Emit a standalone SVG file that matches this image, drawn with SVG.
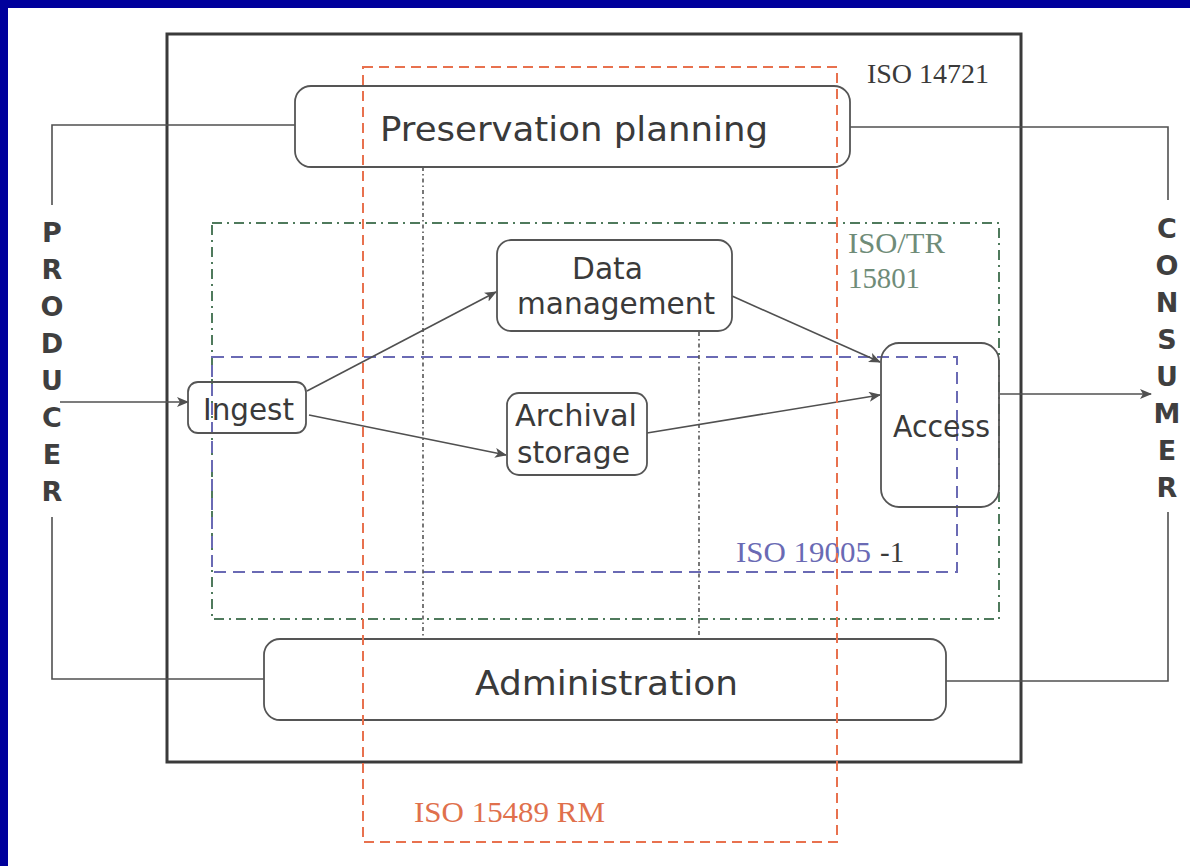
<svg xmlns="http://www.w3.org/2000/svg" width="1190" height="866" viewBox="0 0 1190 866">
<style>
.box{fill:none;stroke:#555;stroke-width:1.8}
.lbl{font-family:"DejaVu Sans",Verdana,sans-serif;fill:#3a3a3a}
.big{font-size:34px}
.mid{font-size:30px}
.vert{font-family:"DejaVu Sans","Liberation Sans",sans-serif;font-weight:bold;font-size:27px;fill:#3f3f3f;text-anchor:middle}
.iso{font-family:"Liberation Serif","Times New Roman",serif}
.conn{fill:none;stroke:#505050;stroke-width:1.6}
.arr{fill:none;stroke:#505050;stroke-width:1.6;marker-end:url(#ah)}
.dot{fill:none;stroke:#555;stroke-width:1.6;stroke-dasharray:4 3 1.5 3}
</style>
<defs>
<marker id="ah" viewBox="0 0 12 10" refX="11" refY="5" markerWidth="12" markerHeight="10" markerUnits="userSpaceOnUse" orient="auto">
<path d="M0,0 L12,5 L0,10 L3,5 z" fill="#505050"/>
</marker>
</defs>
<rect width="1190" height="866" fill="#fff"/>
<rect x="0" y="0" width="1190" height="8" fill="#00009c"/>
<rect x="0" y="0" width="8" height="866" fill="#00009c"/>

<g id="iso14721">
<rect x="167" y="34" width="854" height="728" fill="none" stroke="#3a3a3a" stroke-width="3"/>
<text class="iso" x="867" y="83" font-size="27" fill="#3a3a3a" textLength="122" lengthAdjust="spacingAndGlyphs">ISO 14721</text>
</g>

<g id="iso15801">
<rect x="212" y="223" width="787" height="396" fill="none" stroke="#4f7a5c" stroke-width="2" stroke-dasharray="10 5 2 5"/>
<text class="iso" x="848" y="253" font-size="29" fill="#6f8c78" textLength="97" lengthAdjust="spacingAndGlyphs">ISO/TR</text>
<text class="iso" x="848" y="288" font-size="29" fill="#6f8c78" textLength="72" lengthAdjust="spacingAndGlyphs">15801</text>
</g>

<g id="iso19005">
<rect x="212" y="357" width="745" height="215" fill="none" stroke="#6a6ab4" stroke-width="2" stroke-dasharray="12 7"/>
<text class="iso" x="736" y="562" font-size="29" fill="#6a6ab4" textLength="135" lengthAdjust="spacingAndGlyphs">ISO 19005</text>
<text class="iso" x="880" y="562" font-size="29" fill="#3a3a3a">-1</text>
</g>

<g id="connectors">
<line class="dot" x1="423" y1="167" x2="423" y2="638"/>
<line class="dot" x1="699" y1="332" x2="699" y2="638"/>
<polyline class="conn" points="295,125 52,125 52,205"/>
<polyline class="conn" points="52,517 52,679 264,679"/>
<polyline class="conn" points="850,127 1168,127 1168,200"/>
<polyline class="conn" points="1168,512 1168,681 946,681"/>
<line class="arr" x1="60" y1="402" x2="188" y2="402"/>
<line class="arr" x1="307" y1="391" x2="496" y2="292"/>
<line class="arr" x1="309" y1="415" x2="506" y2="455"/>
<line class="arr" x1="732" y1="296" x2="880" y2="362"/>
<line class="arr" x1="647" y1="433" x2="880" y2="395"/>
<line class="arr" x1="1000" y1="394" x2="1151" y2="394"/>
</g>

<g id="preservation-planning">
<rect class="box" x="295" y="86" width="555" height="81" rx="16"/>
<text class="lbl big" x="380" y="141" textLength="388" lengthAdjust="spacingAndGlyphs">Preservation planning</text>
</g>

<g id="data-management">
<rect class="box" x="497" y="240" width="235" height="91" rx="14"/>
<text class="lbl mid" x="572" y="279" textLength="71" lengthAdjust="spacingAndGlyphs">Data</text>
<text class="lbl mid" x="517" y="314" textLength="198" lengthAdjust="spacingAndGlyphs">management</text>
</g>

<g id="ingest">
<rect class="box" x="188" y="382" width="118" height="51" rx="10"/>
<text class="lbl mid" x="203" y="420" textLength="91" lengthAdjust="spacingAndGlyphs">Ingest</text>
</g>

<g id="archival-storage">
<rect class="box" x="507" y="393" width="140" height="82" rx="12"/>
<text class="lbl mid" x="515" y="426" textLength="122" lengthAdjust="spacingAndGlyphs">Archival</text>
<text class="lbl mid" x="517" y="463" textLength="113" lengthAdjust="spacingAndGlyphs">storage</text>
</g>

<g id="access">
<rect class="box" x="881" y="343" width="118" height="164" rx="18"/>
<text class="lbl mid" x="893" y="437" textLength="97" lengthAdjust="spacingAndGlyphs">Access</text>
</g>

<g id="administration">
<rect class="box" x="264" y="639" width="682" height="81" rx="16"/>
<text class="lbl big" x="475" y="695" textLength="263" lengthAdjust="spacingAndGlyphs">Administration</text>
</g>

<g id="iso15489">
<rect x="363" y="67" width="474" height="775" fill="none" stroke="#e8714e" stroke-width="2" stroke-dasharray="10 6"/>
<text class="iso" x="414" y="822" font-size="29" fill="#e0704c" textLength="191" lengthAdjust="spacingAndGlyphs">ISO 15489 RM</text>
</g>

<g id="producer">
<text class="vert" x="52" y="242">P</text>
<text class="vert" x="52" y="279">R</text>
<text class="vert" x="52" y="316">O</text>
<text class="vert" x="52" y="353">D</text>
<text class="vert" x="52" y="390">U</text>
<text class="vert" x="52" y="427">C</text>
<text class="vert" x="52" y="464">E</text>
<text class="vert" x="52" y="501">R</text>
</g>

<g id="consumer">
<text class="vert" x="1167" y="238">C</text>
<text class="vert" x="1167" y="275">O</text>
<text class="vert" x="1167" y="312">N</text>
<text class="vert" x="1167" y="349">S</text>
<text class="vert" x="1167" y="386">U</text>
<text class="vert" x="1167" y="423">M</text>
<text class="vert" x="1167" y="460">E</text>
<text class="vert" x="1167" y="497">R</text>
</g>
</svg>
